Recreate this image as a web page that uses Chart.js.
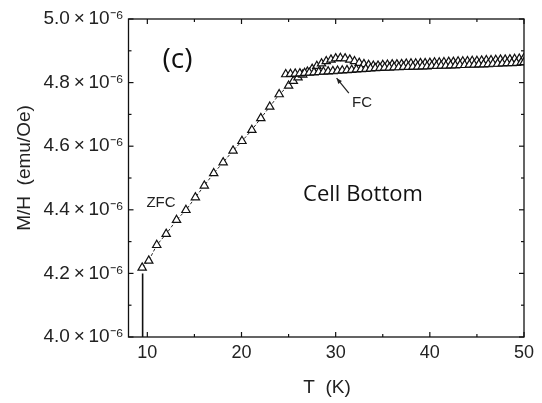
<!DOCTYPE html>
<html>
<head>
<meta charset="utf-8">
<script src="https://cdn.jsdelivr.net/npm/chart.js@4/dist/chart.umd.min.js"></script>
<style>
html,body{margin:0;padding:0;background:#fff;}
#wrap{width:542px;height:403px;position:relative;}
</style>
</head>
<body>
<div id="wrap"><canvas id="c" width="542" height="403"></canvas></div>
<script>
// ---- data ----
const zfcT = [9.45, 10.15, 11.0, 12.0, 13.1, 14.1, 15.1, 16.05, 17.05, 18.05, 19.1, 20.05, 21.1, 22.05, 23.0, 24.0, 25.0,
  25.5, 26.0, 26.5, 27.0, 27.5, 28.0, 28.5, 29.0, 29.5, 30.0, 30.5, 31.0, 31.5, 32.0, 32.5, 33.0, 33.5, 34.0, 34.5,
  35.0, 35.5, 36.0, 36.5, 37.0, 37.5, 38.0, 38.5, 39.0, 39.5, 40.0, 40.5, 41.0, 41.5, 42.0, 42.5, 43.0, 43.5, 44.0,
  44.5, 45.0, 45.5, 46.0, 46.5, 47.0, 47.5, 48.0, 48.5, 49.0, 49.5, 50.0];
const zfcM = [4.218, 4.240, 4.289, 4.324, 4.368, 4.399, 4.439, 4.476, 4.515, 4.549, 4.586, 4.616, 4.651, 4.688, 4.724, 4.763, 4.790,
  4.805, 4.816, 4.825, 4.834, 4.843, 4.852, 4.860, 4.867, 4.872, 4.876, 4.877, 4.876, 4.872, 4.867, 4.862, 4.858, 4.855, 4.853, 4.853,
  4.855, 4.856, 4.857, 4.857, 4.858, 4.859, 4.860, 4.860, 4.861, 4.861, 4.862, 4.863, 4.863, 4.864, 4.865, 4.865, 4.866, 4.866, 4.867,
  4.868, 4.868, 4.869, 4.870, 4.870, 4.871, 4.872, 4.872, 4.873, 4.874, 4.875, 4.877];
const fcT = [24.7, 25.2, 25.7, 26.2, 26.7, 27.2, 27.7, 28.2, 28.7, 29.2, 29.7, 30.2, 30.7, 31.2, 31.7, 32.2, 32.7, 33.2, 33.7,
  34.2, 34.7, 35.2, 35.7, 36.2, 36.7, 37.2, 37.7, 38.2, 38.7, 39.2, 39.7, 40.2, 40.7, 41.2, 41.7, 42.2, 42.7, 43.2, 43.7,
  44.2, 44.7, 45.2, 45.7, 46.2, 46.7, 47.2, 47.7, 48.2, 48.7, 49.2, 49.7, 50.0];
const fcM = [4.826, 4.827, 4.828, 4.829, 4.830, 4.831, 4.832, 4.833, 4.834, 4.835, 4.836, 4.837, 4.838, 4.839, 4.840, 4.841, 4.842, 4.843, 4.844,
  4.845, 4.846, 4.847, 4.847, 4.848, 4.848, 4.849, 4.849, 4.850, 4.850, 4.851, 4.851, 4.852, 4.852, 4.853, 4.853, 4.854, 4.854, 4.855, 4.855,
  4.856, 4.856, 4.857, 4.857, 4.858, 4.859, 4.859, 4.860, 4.861, 4.861, 4.862, 4.863, 4.864];
const dropT = [9.5, 9.5];
const dropM = [4.0, 4.2];

const xTickValues = [10, 20, 30, 40, 50];
const xTickLabels = ['10', '20', '30', '40', '50'];
const yTickValues = [4.0, 4.2, 4.4, 4.6, 4.8, 5.0];
const yTickLabels = ['4.0\u2009\u00d7\u200910\u207b\u2076', '4.2\u2009\u00d7\u200910\u207b\u2076', '4.4\u2009\u00d7\u200910\u207b\u2076',
  '4.6\u2009\u00d7\u200910\u207b\u2076', '4.8\u2009\u00d7\u200910\u207b\u2076', '5.0\u2009\u00d7\u200910\u207b\u2076'];
const xMinorTicks = [15, 25, 35, 45];
const yMinorTicks = [4.1, 4.3, 4.5, 4.7, 4.9];

const xTitle = 'T  (K)';
const yTitle = 'M/H  (emu/Oe)';
const panelLabel = '(c)';
const sampleLabel = 'Cell Bottom';
const zfcLabel = 'ZFC';
const fcLabel = 'FC';

const pts = (xs, ys) => xs.map((x, i) => ({x: x, y: ys[i]}));

const framePlugin = {
  id: 'frame',
  afterDatasetsDraw(chart) {
    const ctx = chart.ctx;
    const a = chart.chartArea;
    const xs = chart.scales.x, ys = chart.scales.y;
    ctx.save();
    ctx.strokeStyle = '#111';
    ctx.lineWidth = 1.3;
    ctx.strokeRect(a.left, a.top, a.right - a.left, a.bottom - a.top);
    ctx.lineWidth = 1.2;
    const tick = (x1, y1, x2, y2) => { ctx.beginPath(); ctx.moveTo(x1, y1); ctx.lineTo(x2, y2); ctx.stroke(); };
    xTickValues.forEach(v => { const px = xs.getPixelForValue(v); tick(px, a.bottom, px, a.bottom - 5); tick(px, a.top, px, a.top + 5); });
    xMinorTicks.forEach(v => { const px = xs.getPixelForValue(v); tick(px, a.bottom, px, a.bottom - 3); tick(px, a.top, px, a.top + 3); });
    yTickValues.forEach(v => { const py = ys.getPixelForValue(v); tick(a.left, py, a.left + 5, py); tick(a.right, py, a.right - 5, py); });
    yMinorTicks.forEach(v => { const py = ys.getPixelForValue(v); tick(a.left, py, a.left + 3, py); tick(a.right, py, a.right - 3, py); });

    // annotations
    ctx.fillStyle = '#111';
    ctx.textAlign = 'center';
    ctx.textBaseline = 'middle';
    ctx.font = '28px "Open Sans", sans-serif';
    ctx.fillText(panelLabel, xs.getPixelForValue(13.2), ys.getPixelForValue(4.87));
    ctx.font = '22px "Open Sans", sans-serif';
    ctx.fillText(sampleLabel, xs.getPixelForValue(32.9), ys.getPixelForValue(4.447));
    ctx.font = '15px "Liberation Sans", Arial, sans-serif';
    ctx.fillStyle = '#222';
    ctx.fillText(zfcLabel, xs.getPixelForValue(11.45), ys.getPixelForValue(4.423));
    ctx.fillText(fcLabel, xs.getPixelForValue(32.8), ys.getPixelForValue(4.736));
    // arrow
    const x0 = xs.getPixelForValue(31.4), y0 = ys.getPixelForValue(4.767);
    const x1 = xs.getPixelForValue(30.1), y1 = ys.getPixelForValue(4.814);
    ctx.strokeStyle = '#222';
    ctx.lineWidth = 1.2;
    tick(x0, y0, x1, y1);
    const ang = Math.atan2(y1 - y0, x1 - x0);
    ctx.beginPath();
    ctx.moveTo(x1, y1);
    ctx.lineTo(x1 - 6 * Math.cos(ang - 0.4), y1 - 6 * Math.sin(ang - 0.4));
    ctx.lineTo(x1 - 6 * Math.cos(ang + 0.4), y1 - 6 * Math.sin(ang + 0.4));
    ctx.closePath();
    ctx.fillStyle = '#222';
    ctx.fill();

    // axis titles
    ctx.fillStyle = '#222';
    ctx.font = '19px "Liberation Sans", Arial, sans-serif';
    ctx.fillText(xTitle, 327, 388);
    ctx.save();
    ctx.translate(25, 168);
    ctx.rotate(-Math.PI / 2);
    ctx.fillText(yTitle, 0, 0);
    ctx.restore();
    ctx.restore();
  }
};

new Chart(document.getElementById('c'), {
  type: 'line',
  data: {
    datasets: [
      { label: 'drop', data: pts(dropT, dropM), borderColor: '#111', borderWidth: 1.6, pointRadius: 0, fill: false },
      { label: 'FC', data: pts(fcT, fcM), borderColor: '#111', borderWidth: 0.9, borderDash: [3, 2],
        pointStyle: 'triangle', pointRadius: 4.8, pointBorderWidth: 1.2, pointBorderColor: '#111', pointBackgroundColor: '#fff', fill: false },
      { label: 'ZFC', data: pts(zfcT, zfcM), borderColor: '#111', borderWidth: 0.9, borderDash: [3, 2],
        pointStyle: 'triangle', pointRadius: 4.8, pointBorderWidth: 1.2, pointBorderColor: '#111', pointBackgroundColor: '#fff', fill: false }
    ]
  },
  options: {
    responsive: false,
    animation: false,
    events: [],
    layout: { padding: { top: 19, right: 18, left: 0, bottom: 0 } },
    plugins: { legend: { display: false }, tooltip: { enabled: false }, title: { display: false } },
    scales: {
      x: {
        type: 'linear', min: 8, max: 50,
        afterBuildTicks: s => { s.ticks = xTickValues.map(v => ({value: v})); },
        afterFit: s => { s.height = 66; },
        grid: { display: false, drawTicks: false },
        border: { display: false },
        ticks: { color: '#222', font: { family: '"Liberation Sans", Arial, sans-serif', size: 18 }, padding: 5,
          maxRotation: 0, autoSkip: false,
          callback: (v, i) => xTickLabels[i] }
      },
      y: {
        type: 'linear', min: 4.0, max: 5.0,
        afterBuildTicks: s => { s.ticks = yTickValues.map(v => ({value: v})); },
        afterFit: s => { s.width = 128.5; },
        grid: { display: false, drawTicks: false },
        border: { display: false },
        ticks: { color: '#222', font: { family: '"Liberation Sans", Arial, sans-serif', size: 19 }, padding: 5,
          autoSkip: false,
          callback: (v, i) => yTickLabels[i] }
      }
    }
  },
  plugins: [framePlugin]
});
</script>
</body>
</html>
